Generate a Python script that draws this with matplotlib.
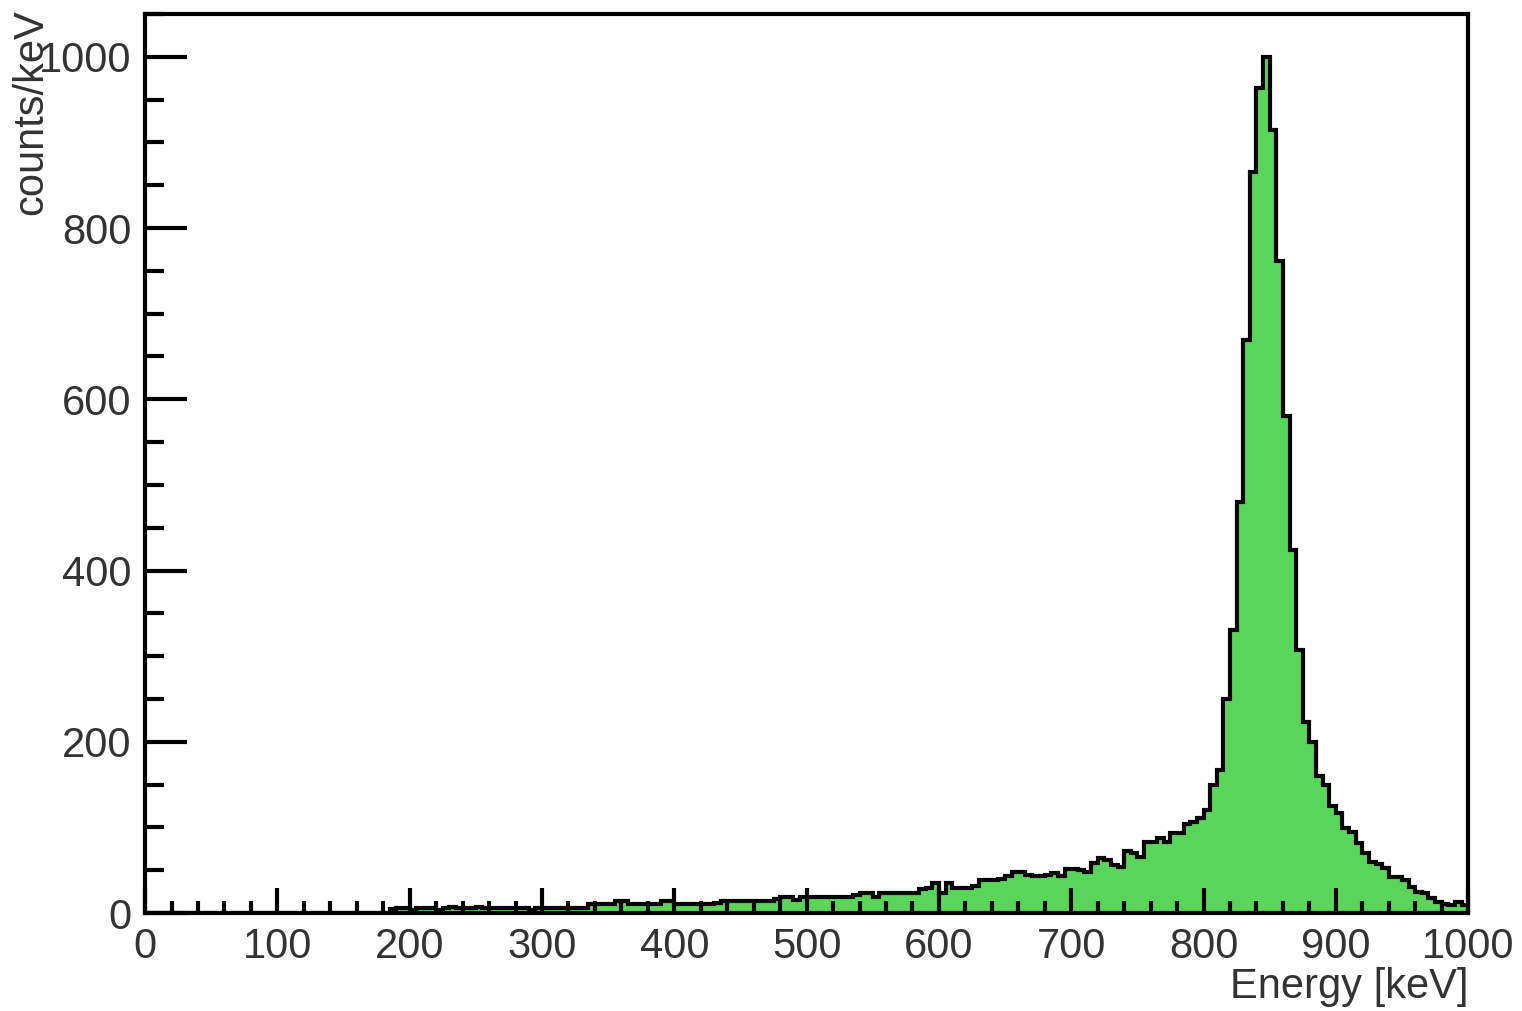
import numpy as np
import matplotlib.pyplot as plt
from matplotlib.ticker import MultipleLocator

# 5 keV bins from 0 to 1000 keV, counts
bin_width = 5
energy_edges = np.arange(0, 1000 + bin_width, bin_width)

counts = [0] * 37 + [
    # 185 - 335 keV
    5, 6, 6, 3, 6, 6, 6, 3, 6, 7, 6, 6, 6, 7, 6, 6, 6, 6, 6, 6, 6, 3, 6, 6, 6, 6, 6, 6, 6, 6,
    # 335 - 535 keV
    10, 10, 10, 10, 14, 14, 10, 10, 10, 10, 10, 14, 14, 10, 10, 10, 10, 10, 10, 12,
    14, 14, 14, 14, 14, 14, 14, 14, 16, 19, 19, 15, 19, 19, 19, 19, 19, 19, 19, 19,
    # 535 - 735 keV
    21, 23, 23, 19, 23, 23, 23, 23, 23, 23, 28, 29, 35, 23, 35, 29, 29, 29, 31, 39,
    39, 39, 40, 43, 48, 48, 45, 43, 43, 44, 47, 43, 52, 52, 50, 48, 58, 64, 62, 56,
    # 735 - 855 keV
    54, 72, 70, 66, 83, 83, 88, 83, 93, 93, 104, 106, 111, 120, 150, 167, 250, 331,
    480, 669, 865, 964, 1000, 915,
    # 855 - 1000 keV
    762, 581, 424, 307, 223, 200, 160, 149, 125, 117, 99, 95, 82, 70, 60, 57, 53, 42,
    42, 38, 30, 25, 23, 18, 13, 11, 9, 13, 9,
]

x_ticks = [0, 100, 200, 300, 400, 500, 600, 700, 800, 900, 1000]
y_ticks = [0, 200, 400, 600, 800, 1000]

plt.rcParams['font.family'] = ['Liberation Sans', 'DejaVu Sans']

fig = plt.figure(figsize=(15.22, 10.11), dpi=100)
ax = fig.add_axes([0.0953, 0.0969, 0.8693, 0.8893])

ax.stairs(counts, energy_edges, fill=True, facecolor='#59d659', edgecolor='none')
ax.stairs(counts, energy_edges, color='black', linewidth=3)

ax.set_xlim(0, 1000)
ax.set_ylim(0, 1050)

ax.set_xticks(x_ticks)
ax.set_yticks(y_ticks)
ax.xaxis.set_minor_locator(MultipleLocator(20))
ax.yaxis.set_minor_locator(MultipleLocator(50))
ax.tick_params(axis='both', which='both', direction='in', top=False, right=False,
               width=3, colors='black', labelcolor='#333333', labelsize=30)
ax.tick_params(axis='x', which='major', length=18, pad=10)
ax.tick_params(axis='x', which='minor', length=9)
ax.tick_params(axis='y', which='major', length=30, pad=10)
ax.tick_params(axis='y', which='minor', length=14)

for spine in ax.spines.values():
    spine.set_linewidth(3)

ax.set_xlabel('Energy [keV]', fontsize=30, color='#333333', loc='right')
ax.xaxis.set_label_coords(1.0, -0.06)
ax.set_ylabel('counts/keV', fontsize=30, color='#333333', loc='top')
ax.yaxis.set_label_coords(-0.071, 1.005)

fig.savefig('out.png', dpi=100)
